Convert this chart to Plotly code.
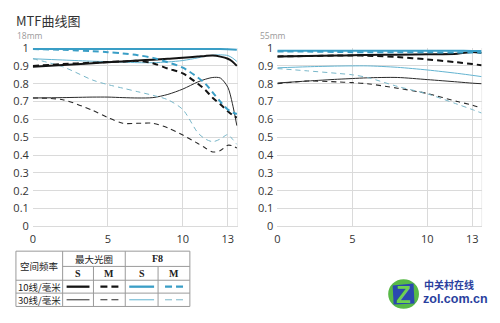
import plotly.graph_objects as go

W, H = 500, 323

# ---- 18mm, MTF vs image height (mm) ----
x18 = [0, 2, 4, 5, 6, 7, 8, 9, 10, 11, 11.5, 12, 12.5, 13, 13.3, 13.6]
wide_s10 = [0.895, 0.905, 0.915, 0.92, 0.925, 0.93, 0.935, 0.94, 0.945, 0.952, 0.956, 0.958, 0.952, 0.94, 0.925, 0.90]
wide_m10 = [0.90, 0.91, 0.918, 0.922, 0.925, 0.928, 0.915, 0.885, 0.858, 0.80, 0.765, 0.72, 0.685, 0.645, 0.625, 0.61]
f8_s10 = [0.994, 0.994, 0.994, 0.994, 0.994, 0.994, 0.994, 0.994, 0.994, 0.994, 0.994, 0.994, 0.994, 0.993, 0.992, 0.99]
f8_m10 = [0.994, 0.99, 0.982, 0.977, 0.97, 0.96, 0.945, 0.92, 0.89, 0.835, 0.80, 0.75, 0.70, 0.655, 0.64, 0.63]
wide_s30 = [0.72, 0.722, 0.725, 0.725, 0.722, 0.72, 0.722, 0.74, 0.77, 0.81, 0.825, 0.835, 0.832, 0.78, 0.69, 0.565]
wide_m30 = [0.72, 0.71, 0.65, 0.61, 0.578, 0.578, 0.578, 0.552, 0.512, 0.465, 0.44, 0.417, 0.425, 0.455, 0.452, 0.44]
f8_s30 = [0.94, 0.933, 0.926, 0.924, 0.921, 0.918, 0.918, 0.922, 0.93, 0.945, 0.955, 0.96, 0.962, 0.958, 0.945, 0.925]
f8_m30 = [0.94, 0.895, 0.82, 0.795, 0.775, 0.755, 0.735, 0.71, 0.655, 0.525, 0.49, 0.475, 0.49, 0.515, 0.49, 0.46]

# ---- 55mm ----
x55 = [0, 2, 4, 5, 6, 8, 10, 12, 13, 13.6]
tele_wide_s10 = [0.953, 0.955, 0.958, 0.96, 0.961, 0.963, 0.965, 0.968, 0.978, 0.972]
tele_wide_m10 = [0.953, 0.955, 0.958, 0.958, 0.957, 0.95, 0.936, 0.92, 0.91, 0.904]
tele_f8_s10 = [0.985, 0.985, 0.985, 0.985, 0.985, 0.985, 0.985, 0.985, 0.984, 0.983]
tele_f8_m10 = [0.981, 0.98, 0.978, 0.977, 0.977, 0.976, 0.976, 0.975, 0.975, 0.974]
tele_wide_s30 = [0.804, 0.815, 0.825, 0.829, 0.833, 0.835, 0.823, 0.81, 0.803, 0.80]
tele_wide_m30 = [0.80, 0.815, 0.81, 0.806, 0.80, 0.775, 0.745, 0.70, 0.68, 0.662]
tele_f8_s30 = [0.889, 0.895, 0.899, 0.90, 0.90, 0.892, 0.877, 0.858, 0.847, 0.84]
tele_f8_m30 = [0.885, 0.872, 0.858, 0.85, 0.835, 0.785, 0.743, 0.685, 0.655, 0.636]

x_ticks = [0, 5, 10, 13]
y_ticks = [0, 0.1, 0.2, 0.3, 0.4, 0.5, 0.6, 0.7, 0.8, 0.9, 1]
y_ticklabels = ["0", "0.1", "0.2", "0.3", "0.4", "0.5", "0.6", "0.7", "0.8", "0.9", "1"]

title_text = "MTF曲线图"
panel_names = ["18mm", "55mm"]
table_header = ["空间频率", "最大光圈", "F8"]
table_sub = ["S", "M", "S", "M"]
table_rows = ["10线/毫米", "30线/毫米"]

BLACK = "#141414"
BLACK_THIN = "#2a2a2a"
CYAN = "#3a9ec6"
CYAN_THIN = "#62b3d0"
CYAN_DASH_THIN = "#78b6c8"
GRID = "#dadada"

styles = [
    # (color, width, dash)
    (BLACK, 2.0, "solid"),
    (BLACK, 2.0, "6px,4px"),
    (CYAN, 2.0, "solid"),
    (CYAN, 2.0, "6px,4px"),
    (BLACK_THIN, 1.0, "solid"),
    (BLACK_THIN, 1.1, "5px,4px"),
    (CYAN_THIN, 1.0, "solid"),
    (CYAN_DASH_THIN, 1.0, "5px,4px"),
]

left_series = [wide_s10, wide_m10, f8_s10, f8_m10, wide_s30, wide_m30, f8_s30, f8_m30]
right_series = [tele_wide_s10, tele_wide_m10, tele_f8_s10, tele_f8_m10,
                tele_wide_s30, tele_wide_m30, tele_f8_s30, tele_f8_m30]

fig = go.Figure()

# thin lines first so the thick ones sit on top
order = [4, 5, 6, 7, 0, 1, 2, 3]
for xs, series, xa, ya in [(x18, left_series, "x", "y"), (x55, right_series, "x2", "y2")]:
    for i in order:
        c, w, d = styles[i]
        fig.add_trace(go.Scatter(
            x=xs, y=series[i], mode="lines", xaxis=xa, yaxis=ya,
            line=dict(color=c, width=w, dash=d, shape="spline", smoothing=0.8),
            showlegend=False, hoverinfo="skip"))


def px(x):
    return x / W


def py(y):
    return 1 - y / H


XMAX = 13.65
ydom = [py(229), py(42)]
axis_font = dict(family="Open Sans, Lato, sans-serif", size=11, color="#333333")

common_x = dict(range=[0, XMAX], tickvals=x_ticks, ticktext=[str(v) for v in x_ticks],
                showgrid=True, gridcolor=GRID, gridwidth=1, zeroline=False,
                showline=True, linecolor=GRID, linewidth=1, ticks="",
                tickfont=axis_font, ticklabelstandoff=2, fixedrange=True)
common_y = dict(range=[0, 1], tickvals=y_ticks, ticktext=y_ticklabels,
                showgrid=True, gridcolor=GRID, gridwidth=1, zeroline=False,
                showline=False, ticks="", tickfont=axis_font,
                ticklabelstandoff=3, domain=ydom, fixedrange=True)

fig.update_layout(
    width=W, height=H,
    margin=dict(l=0, r=0, t=0, b=0),
    paper_bgcolor="white", plot_bgcolor="white",
    xaxis=dict(domain=[px(30), px(236)], anchor="y", **common_x),
    yaxis=dict(anchor="x", **common_y),
    xaxis2=dict(domain=[px(276), px(482)], anchor="y2", **common_x),
    yaxis2=dict(anchor="x2", **common_y),
)

shapes = []
# right-hand frame line of each panel
for xr, yr in [("x", "y"), ("x2", "y2")]:
    shapes.append(dict(type="line", xref=xr, yref=yr, x0=XMAX, x1=XMAX, y0=0, y1=1,
                       line=dict(color=GRID, width=1), layer="below"))

annotations = []
annotations.append(dict(text=title_text, x=px(11), y=py(13), xref="paper", yref="paper",
                        xanchor="left", yanchor="middle", showarrow=False,
                        font=dict(family="Noto Sans CJK SC", size=13, color="#333333")))
for name, xp in zip(panel_names, [12, 257]):
    annotations.append(dict(text=name, x=px(xp), y=py(29), xref="paper", yref="paper",
                            xanchor="left", yanchor="middle", showarrow=False,
                            font=dict(family="Open Sans, sans-serif", size=8.5, color="#9a9a9a")))

# ---- line-style key table ----
TL, TR = 13, 188
TT, TB = 255, 313
cols = [13, 60, 91, 123, 156, 188]
r1, r2, r3 = 271, 285.5, 299
TABLE = "#9a9a9a"


def tline(x0, y0, x1, y1):
    shapes.append(dict(type="line", xref="paper", yref="paper",
                       x0=px(x0), y0=py(y0), x1=px(x1), y1=py(y1),
                       line=dict(color=TABLE, width=1)))


tline(TL, TT, TR, TT)
tline(TL, TB, TR, TB)
tline(TL, TT, TL, TB)
tline(TR, TT, TR, TB)
tline(cols[1], TT, cols[1], TB)
tline(cols[3], TT, cols[3], TB)
tline(cols[2], r1, cols[2], TB)
tline(cols[4], r1, cols[4], TB)
tline(cols[1], r1, TR, r1)
tline(TL, r2, TR, r2)
tline(TL, r3, TR, r3)

cjk = dict(family="Noto Sans CJK SC", size=9.5, color="#222222")
serif = dict(family="Liberation Serif, DejaVu Serif, serif", size=10, color="#222222")


def ttext(t, x, y, font):
    annotations.append(dict(text=t, x=px(x), y=py(y), xref="paper", yref="paper",
                            xanchor="center", yanchor="middle", showarrow=False, font=font))


ttext(table_header[0], (cols[0] + cols[1]) / 2, (TT + r2) / 2, cjk)
ttext(table_header[1], (cols[1] + cols[3]) / 2, (TT + r1) / 2, cjk)
ttext("<b>" + table_header[2] + "</b>", (cols[3] + cols[5]) / 2, (TT + r1) / 2, serif)
for k, s in enumerate(table_sub):
    ttext("<b>" + s + "</b>", (cols[k + 1] + cols[k + 2]) / 2, (r1 + r2) / 2, serif)
row_y = [(r2 + r3) / 2, (r3 + TB) / 2]
for t, yy in zip(table_rows, row_y):
    ttext(t, (cols[0] + cols[1]) / 2, yy, cjk)

# key samples: row 0 thick (10 lp/mm), row 1 thin (30 lp/mm)
for row, yy in enumerate(row_y):
    for k in range(4):
        c, w, d = styles[row * 4 + k]
        x0, x1 = cols[k + 1] + 4, cols[k + 2] - 4
        if d != "solid":
            x0, x1 = cols[k + 1] + 7, cols[k + 2] - 6
            d = "7px,4px"
        shapes.append(dict(type="line", xref="paper", yref="paper",
                           x0=px(x0), x1=px(x1), y0=py(yy), y1=py(yy),
                           line=dict(color=c, width=w + (0.3 if w > 1.5 else 0), dash=d)))

# ---- site badge ----
cx, cy, rr = 403, 300, 15.5
shapes.append(dict(type="circle", xref="paper", yref="paper",
                   x0=px(cx - rr), x1=px(cx + rr), y0=py(cy + rr), y1=py(cy - rr),
                   fillcolor="#58b947", line=dict(width=0)))
sq = 11
shapes.append(dict(type="path", xref="paper", yref="paper",
                   path=(f"M {px(cx - sq)} {py(cy - sq + 2)} L {px(cx + sq - 1)} {py(cy - sq)} "
                         f"L {px(cx + sq)} {py(cy + sq - 1)} L {px(cx - sq + 1)} {py(cy + sq)} Z"),
                   fillcolor="#2b48b0", line=dict(width=0)))
annotations.append(dict(text="<b>Z</b>", x=px(cx), y=py(cy), xref="paper", yref="paper",
                        xanchor="center", yanchor="middle", showarrow=False,
                        font=dict(family="Liberation Sans, Arial, sans-serif", size=24, color="#6fd14f")))
annotations.append(dict(text="<b>中关村在线</b>", x=px(422), y=py(289.5), xref="paper", yref="paper",
                        xanchor="left", yanchor="middle", showarrow=False,
                        font=dict(family="Noto Sans CJK SC", size=10, color="#2a3f9e")))
annotations.append(dict(text="<b>zol.com.cn</b>", x=px(421), y=py(305.5), xref="paper", yref="paper",
                        xanchor="left", yanchor="middle", showarrow=False,
                        font=dict(family="Liberation Sans, Arial, sans-serif", size=12.5, color="#2a3f9e")))

fig.update_layout(shapes=shapes, annotations=annotations)
fig.write_html("out.html")
